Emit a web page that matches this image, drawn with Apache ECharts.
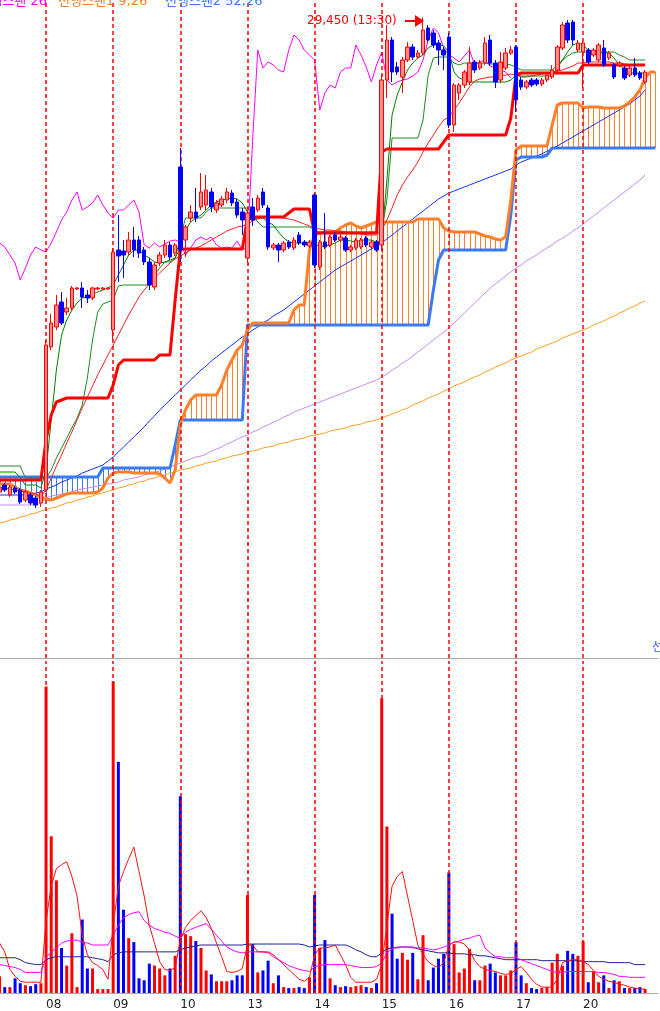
<!DOCTYPE html>
<html>
<head>
<meta charset="utf-8">
<script src="https://cdn.jsdelivr.net/npm/echarts/dist/echarts.min.js"></script>
<style>
html,body{margin:0;padding:0;background:#fff;}
#wrap{position:relative;width:660px;height:1011px;overflow:hidden;}
#c{position:absolute;left:-20px;top:0;width:700px;height:1011px;}
</style>
</head>
<body>
<div id="wrap"><div id="c"></div></div>
<script>
// ---------- categories ----------
const days = ['07','08','09','10','13','14','15','16','17','20'];
const sessionTimes = ['09:30','10:00','10:30','11:00','11:30','12:00','12:30','13:00','13:30','14:00','14:30','15:00','15:30'];
const firstDayBarsVisible = 9;
const futureLabels = ['+1','+2'];

// ---------- candles [open, close, low, high] ----------
const ohlc = [
// 07 (partial)
[19960,20060,19920,20100],[20100,20000,19960,20140],[19900,20060,19860,20100],[20040,19960,19920,20080],
[20000,19760,19720,20040],[19800,19960,19760,20000],[19900,19740,19700,19940],[19840,19700,19640,19880],
[19740,19960,19660,20000],
// 08
[20000,22900,19960,23000],[22860,23340,22800,23520],[23260,23700,23200,23900],[23760,23340,23300,23960],
[23560,23640,23500,23840],[23640,24040,23600,24080],[24020,24040,24000,24060],[24040,23860,23640,24160],
[23900,23840,23740,24000],[23840,24040,23800,24060],[24020,24040,24000,24060],[24020,24040,24000,24060],
[24020,24040,24000,24060],
// 09
[23200,24760,23000,24840],[24800,24680,24160,25500],[24780,24700,24240,25000],[24760,25000,24700,25160],
[25000,24800,24660,25260],[25000,24740,24640,25080],[24800,24560,24500,24860],[24560,24100,24000,24640],
[24060,24500,24000,24560],[24540,24700,24480,24760],[24700,24900,24640,25000],[24900,24660,24600,24960],
[24740,24900,24680,24940],
// 10
[26460,24800,24560,26840],[25000,25260,24660,25300],[25440,25560,25360,25700],[25560,25440,25360,26040],
[25660,25960,25600,26340],[25700,26000,25600,26300],[25960,25660,25560,26040],[25600,25740,25540,25800],
[25700,25820,25660,25880],[25800,25960,25740,26040],[25940,25740,25680,26000],[25760,25500,25440,25820],
[25560,25400,25100,25640],
// 13
[24640,25540,24540,25600],[25660,25400,25280,25840],[25600,25840,25560,25900],[25960,25700,25640,26040],
[25640,24860,24800,25700],[24840,24900,24800,24940],[24900,24800,24560,24940],[24800,24940,24760,24980],
[24960,24860,24820,25000],[24840,25000,24800,25060],[25100,24940,24900,25160],[24960,24900,24860,25000],
[24880,24960,24840,25000],
// 14
[25900,24500,24440,25940],[24460,24960,24400,25000],[24960,24860,24820,25540],[24900,25060,24860,25100],
[25100,25000,24960,25160],[25000,25060,24960,25100],[25040,24800,24760,25080],[24800,24860,24760,24900],
[24840,25000,24800,25040],[24860,25000,24820,25040],[25040,24900,24860,25080],[24860,24960,24820,25000],
[24960,24800,24760,25000],
// 15
[24900,28200,24800,28300],[28200,29000,27840,29300],[29000,28360,28160,29060],[28460,28360,28300,28560],
[28260,28600,27940,28660],[28600,28860,28560,28960],[28860,28660,28600,28920],[28660,28740,28620,28800],
[28740,29200,28700,29450],[29240,29000,28960,29300],[29140,28900,28840,29200],[28940,28800,28500,29000],
[28800,28700,28400,28860],
// 16
[29060,27300,27240,29140],[27300,28100,27160,28140],[27940,28100,27800,28140],[28100,28360,28040,28400],
[28160,28540,28100,28860],[28560,28400,28340,28600],[28440,28540,28400,28600],[28540,28940,28500,29060],
[29000,28540,28480,29100],[28540,28160,28040,28600],[28200,28560,28140,28760],[28440,28740,28400,28840],
[28740,28800,28700,28880],
// 17
[28860,27800,27560,28900],[28200,28060,28000,28260],[28060,28160,28020,28200],[28200,28100,28060,28240],
[28200,28120,28080,28240],[28120,28200,28080,28240],[28200,28300,28160,28340],[28260,28400,28220,28500],
[28400,28860,28360,28900],[28840,29300,28800,29360],[29340,29000,28940,29400],[29360,29000,28900,29400],
[28800,28940,28760,29000],
// 20
[28760,28940,28040,28980],[28800,28560,28520,28840],[28700,28800,28660,28840],[28600,28900,28560,28940],
[28840,28500,28460,29000],[28640,28740,28600,28780],[28500,28260,28220,28540],[28500,28540,28460,28580],
[28440,28240,28200,28480],[28300,28440,28260,28480],[28440,28300,28260,28640],[28340,28240,28200,28380],
[28160,28360,28120,28400]
];

// ---------- ichimoku ----------
const conversionLine = [
20360,20360,20360,20360,20240,20100,20100,20100,20040,20400,
21400,22400,23100,23400,23600,23740,23840,23860,23920,23960,
24000,24040,24100,24300,24500,24700,24800,24800,24700,24640,
24560,24540,24560,24600,24640,24840,25200,25360,25440,25500,
25600,25700,25760,25800,25820,25840,25820,25740,25560,25440,
25440,25440,25360,25300,25160,25040,24960,24940,24940,24940,
24940,24900,24880,24880,24900,24940,25000,25000,24980,24960,
25000,25000,25000,24960,25000,26200,27500,27900,28160,28400,
28540,28640,28700,28840,28900,28920,28880,28760,28360,28240,
28200,28160,28160,28160,28160,28160,28160,28160,28160,28200,
28300,28280,28280,28280,28280,28280,28280,28280,28440,28600,
28760,28900,28940,28900,28800,28760,28740,28740,28740,28640,
28500,28400,28340,28340,28340,28340];

const secondGreenLine = [
20480,20480,20480,20480,20480,20240,20240,20240,20240,20240,
20400,20640,20840,21040,21240,21440,21700,22240,23000,23560,
23720,23760,23800,24080,24100,24100,24100,24100,24100,24100,
24300,24440,24560,24560,24640,25040,25440,25440,25440,25440,
25560,25640,25640,25640,25640,25640,25640,25640,25640,25500,
25360,25260,25260,25260,25260,25260,25260,25260,25260,25260,
25260,25200,25160,25160,25160,25160,25160,25160,25160,25160,
25160,25160,25160,25160,25160,25800,27040,27040,27040,27040,
27040,27040,27400,28300,28640,28660,28660,28660,28540,28500,
28540,28540,28540,28540,28540,28520,28520,28520,28520,28500,
28460,28400,28400,28400,28400,28400,28400,28400,28500,28600,
28680,28740,28760,28760,28760,28760,28760,28760,28760,28760,
28700,28660,28600,28600,28600,28600];

const baseLine = [
20200,20200,20200,20200,20200,20200,20200,20200,20200,21000,
21500,21760,21800,21840,21840,21840,21840,21840,21840,21840,
21840,21840,22100,22500,22600,22600,22600,22600,22600,22600,
22600,22700,22700,22700,23800,24820,24820,24820,24820,24820,
24820,24820,24820,24820,24820,24820,24820,24820,25440,25460,
25460,25460,25460,25460,25460,25460,25540,25620,25620,25620,
25620,25140,25140,25140,25140,25140,25140,25140,25140,25140,
25140,25140,25140,25140,26760,26820,26820,26820,26820,26820,
26820,26820,26820,26820,26820,26820,26960,27100,27100,27100,
27100,27100,27100,27100,27100,27100,27100,27100,27100,27440,
28300,28340,28340,28340,28340,28340,28340,28340,28340,28340,
28340,28340,28340,28500,28500,28500,28500,28500,28500,28500,
28500,28500,28500,28500,28500,28500];

const leadingSpan1 = [
20120,20120,20120,20060,20000,19980,19940,19900,19860,19820,
19800,19840,19880,19920,19940,19940,19940,19940,19940,19960,
20040,20240,20340,20360,20360,20360,20340,20340,20340,20340,
20340,20320,20240,20140,20400,21300,21600,21800,21900,21900,
21900,21900,21900,22100,22400,22600,22800,22900,23200,23340,
23340,23340,23340,23340,23340,23340,23340,23600,23700,23700,
24800,25100,25140,25160,25160,25160,25240,25300,25340,25280,
25240,25280,25320,25360,25360,25360,25360,25360,25360,25360,
25360,25420,25420,25420,25420,25420,25240,25180,25160,25160,
25160,25160,25160,25120,25080,25060,25020,25000,25060,25800,
26800,26880,26880,26880,26880,26880,26880,27300,27700,27740,
27740,27740,27740,27640,27660,27660,27660,27640,27640,27640,
27640,27680,27760,27860,28000,28240,28360,28360];

const leadingSpan2 = [
20260,20260,20260,20260,20260,20260,20260,20260,20260,20260,
20260,20260,20260,20260,20260,20260,20260,20260,20260,20260,
20440,20440,20440,20440,20440,20440,20440,20440,20440,20440,
20440,20440,20440,20440,20900,21400,21400,21400,21400,21400,
21400,21400,21400,21400,21400,21400,21400,21400,23300,23300,
23300,23300,23300,23300,23300,23300,23300,23300,23300,23300,
23300,23300,23300,23300,23300,23300,23300,23300,23300,23300,
23300,23300,23300,23300,23300,23300,23300,23300,23300,23300,
23300,23300,23300,23300,24000,24600,24800,24800,24800,24800,
24800,24800,24800,24800,24800,24800,24800,24800,24800,25500,
26600,26660,26660,26660,26660,26660,26700,26840,26840,26840,
26840,26840,26840,26840,26840,26840,26840,26840,26840,26840,
26840,26840,26840,26840,26840,26840,26840,26840];

const laggingSpan = [
24940,24860,24700,24540,24200,24440,24700,24860,24800,24760,
24940,25160,25400,25560,25800,25960,25600,25660,25740,25900,
25700,25540,25440,25600,25600,25700,25800,25560,24900,24840,
24940,24860,24920,24980,25000,24960,24700,24840,25000,25060,
25000,25060,24900,24840,24860,24840,24980,24800,24860,27000,
28800,28440,28560,28500,28400,28360,28800,29100,29000,28800,
28700,28600,27600,27940,28100,28040,28360,28440,28440,28900,
28700,28460,28160,28500,28760,28200,28100,28160,28200,28220,
28280,28360,28600,29000,29240,29140,28840,28700,28640,28560,
28680,28800,28500,28560,28600,28480,28440,28400,28360,28240];

// ---------- price moving averages ----------
const maRed = [
20040,20040,20020,20000,19980,19960,19940,19920,19880,20000,
20240,20480,20700,20940,21160,21400,21640,21860,22080,22300,
22500,22700,22900,23100,23300,23500,23680,23860,24000,24120,
24240,24340,24440,24540,24620,24680,24740,24800,24840,24880,
24940,25000,25060,25120,25180,25220,25260,25280,25320,25380,
25420,25460,25460,25460,25460,25440,25420,25400,25360,25320,
25280,25240,25220,25200,25200,25180,25180,25160,25140,25140,
25120,25100,25100,25100,25200,25400,25640,25900,26100,26260,
26400,26560,26760,26940,27100,27260,27400,27460,27600,27740,
27900,28060,28180,28220,28240,28260,28260,28280,28300,28320,
28300,28260,28260,28280,28300,28320,28340,28360,28380,28400,
28440,28480,28540,28540,28560,28560,28560,28560,28560,28540,
28540,28520,28500,28500,28500,28500];

const maBlue = [
19900,19900,19900,19900,19900,19900,19920,19940,19960,20020,
20060,20100,20160,20200,20240,20280,20340,20380,20420,20460,
20500,20580,20660,20760,20860,20960,21060,21160,21260,21380,
21480,21600,21700,21800,21900,22000,22100,22200,22300,22400,
22480,22580,22660,22740,22820,22900,22980,23060,23120,23200,
23260,23340,23400,23480,23540,23600,23680,23760,23840,23920,
24000,24080,24160,24240,24320,24400,24460,24520,24580,24640,
24700,24760,24820,24880,24940,25020,25100,25180,25260,25340,
25420,25500,25580,25660,25740,25820,25880,25940,25980,26020,
26060,26100,26140,26180,26220,26260,26300,26340,26380,26420,
26500,26560,26600,26640,26680,26720,26780,26820,26880,26940,
27000,27060,27120,27180,27240,27300,27360,27420,27480,27540,
27600,27660,27720,27800,27880,28000];

const maViolet = [
19700,19700,19700,19700,19700,19700,19700,19700,19740,19840,
19880,19900,19920,19940,19960,20000,20020,20040,20060,20080,
20100,20120,20140,20160,20200,20220,20240,20260,20300,20320,
20360,20380,20420,20460,20500,20540,20580,20620,20660,20680,
20720,20780,20820,20860,20920,20960,21020,21060,21100,21160,
21200,21260,21300,21360,21400,21460,21500,21560,21600,21640,
21680,21720,21760,21800,21840,21880,21920,21960,22000,22040,
22080,22120,22160,22200,22260,22320,22400,22460,22540,22600,
22680,22760,22840,22920,23000,23080,23160,23240,23340,23440,
23540,23640,23740,23840,23940,24040,24120,24200,24280,24360,
24440,24500,24580,24640,24700,24780,24840,24900,24980,25040,
25100,25180,25240,25320,25400,25480,25560,25640,25720,25800,
25880,25960,26040,26120,26200,26300];

const maOrange = [
19340,19360,19400,19420,19460,19480,19520,19540,19580,19600,
19640,19660,19700,19740,19760,19800,19820,19860,19880,19920,
19940,19980,20000,20040,20060,20100,20120,20160,20180,20220,
20240,20280,20300,20340,20360,20400,20420,20440,20480,20500,
20540,20560,20580,20620,20640,20680,20700,20720,20760,20780,
20800,20840,20860,20880,20920,20940,20960,21000,21020,21040,
21080,21100,21120,21140,21180,21200,21220,21240,21280,21300,
21320,21360,21380,21400,21440,21480,21520,21560,21600,21640,
21700,21740,21780,21840,21880,21920,21980,22020,22080,22120,
22160,22220,22260,22300,22360,22400,22460,22500,22540,22600,
22640,22680,22720,22760,22820,22860,22900,22940,22980,23040,
23080,23120,23160,23200,23240,23300,23340,23380,23440,23480,
23540,23580,23640,23680,23740,23780];

// ---------- volume (thousand shares) ----------
const volume = [
17,6,6,15,10,8,7,9,10,
313,160,115,46,28,61,6,75,25,25,4,4,4,
318,236,85,56,52,15,13,30,28,25,18,25,38,
201,60,58,53,46,23,19,12,12,12,13,18,18,
100,50,21,23,33,10,18,6,5,5,6,5,16,
100,46,54,15,8,6,7,6,7,8,6,5,10,
301,170,81,35,41,34,41,14,59,13,26,35,40,
123,50,21,25,45,13,13,28,30,21,18,18,23,
52,18,10,5,4,5,6,31,40,28,43,40,38,
53,11,22,11,18,5,13,12,5,5,5,6,4];

const volMaShort = [
51,42,24,17,12,11,11,11,11,74,
109,127,131,134,119,99,59,39,31,28,
24,14,69,109,124,137,149,124,99,69,
51,32,24,23,26,54,67,74,79,84,
77,66,51,37,22,21,22,25,49,49,
42,42,42,39,34,29,24,19,14,12,
16,39,46,46,47,49,39,29,16,11,
11,11,11,14,29,69,109,119,124,99,
74,49,39,32,28,26,31,49,52,52,
50,44,33,27,24,23,22,20,19,20,
24,27,21,14,9,6,6,6,14,31,
33,34,34,32,29,23,17,14,12,11,
9,8,6,5,4,4];

const volMaMid = [
29,28,27,26,24,21,21,21,21,36,
42,46,51,53,54,54,52,51,49,49,
49,49,59,69,77,80,82,83,74,69,
66,64,62,61,58,56,62,65,67,69,
71,65,59,53,47,44,42,41,42,42,
42,42,41,37,34,31,28,26,24,23,
22,27,28,29,29,29,29,29,28,27,
26,26,26,27,31,41,45,47,47,47,
46,46,46,45,44,45,47,49,52,53,
55,56,58,59,46,41,37,37,36,36,
36,34,32,30,28,26,24,22,21,21,
22,22,22,22,22,22,21,21,20,19,
17,17,16,16,16,16];

const volMaLong = [
36,36,36,36,34,31,30,29,29,34,
36,37,37,37,37,37,37,37,36,35,
34,32,39,41,42,42,42,42,42,42,
42,42,42,42,42,44,46,47,48,49,
49,49,49,49,49,49,49,49,50,50,
50,50,50,50,50,50,50,50,50,49,
47,48,49,49,49,49,49,49,47,44,
42,39,37,37,41,45,46,46,47,47,
47,45,44,43,42,41,41,41,40,40,
40,39,39,38,38,37,36,35,34,34,
34,34,34,34,34,33,33,33,33,33,
33,33,33,32,32,32,32,32,31,31,
31,31,31,29,29,29];

// ---------- build tables ----------
const categories = [];
days.forEach((d, k) => {
  const times = k === 0 ? sessionTimes.slice(sessionTimes.length - firstDayBarsVisible) : sessionTimes;
  times.forEach(t => categories.push(d + ' ' + t));
});
futureLabels.forEach(f => categories.push(f));
const dayStarts = [];
categories.forEach((c, i) => { if (c.endsWith(' ' + sessionTimes[0])) dayStarts.push(i); });

const UP = '#FF0000', UPFILL = '#FF8A8A', DOWN = '#0000FF';
const SPAN1C = '#FF7F2A', SPAN2C = '#3A7BF5';
const OFF = 20; // chart canvas is shifted left by this many px inside the clipping wrapper

const volData = volume.map((v, i) => ({
  value: v,
  itemStyle: { color: ohlc[i][1] >= ohlc[i][0] ? UP : DOWN }
}));

const dayMarkLine = {
  silent: true, symbol: ['none', 'none'], animation: false,
  label: { show: false },
  lineStyle: { color: '#FF0000', type: [4, 3], width: 1.5 },
  emphasis: { disabled: true },
  data: dayStarts.map(i => ({ xAxis: i }))
};

function lineS(data, color, width, xi, z) {
  return { type: 'line', data: data, xAxisIndex: xi, yAxisIndex: xi, showSymbol: false, symbol: 'none',
    lineStyle: { color: color, width: width }, itemStyle: { color: color }, z: z || 3, silent: true, animation: false };
}

const chart = echarts.init(document.getElementById('c'), null, { renderer: 'canvas' });
const FONT = '"Noto Sans CJK KR", "Noto Sans", sans-serif';
const FONT_MIX = '"DejaVu Sans", "Noto Sans CJK KR", sans-serif';

chart.setOption({
  animation: false,
  backgroundColor: '#ffffff',
  grid: [
    { left: OFF - 3, width: 661, top: 0, height: 658 },
    { left: OFF - 3, width: 661, top: 661, height: 339 }
  ],
  xAxis: [
    { type: 'category', gridIndex: 0, data: categories, boundaryGap: true,
      axisLine: { show: true, lineStyle: { color: '#AAAAAA', width: 1 } },
      axisTick: { show: false }, axisLabel: { show: false }, splitLine: { show: false } },
    { type: 'category', gridIndex: 1, data: categories, boundaryGap: true,
      axisLine: { show: true, lineStyle: { color: '#AAAAAA', width: 1 } },
      axisTick: { show: false }, splitLine: { show: false },
      axisLabel: { show: true, interval: (idx) => dayStarts.indexOf(idx) >= 0,
        formatter: (v) => v.slice(0, 2), align: 'left', margin: 6,
        color: '#222222', fontSize: 12, fontFamily: FONT_MIX } }
  ],
  yAxis: [
    { type: 'value', gridIndex: 0, min: 16640, max: 29800, show: false, splitLine: { show: false } },
    { type: 'value', gridIndex: 1, min: 0, max: 339, show: false, splitLine: { show: false } }
  ],
  series: [
    { type: 'custom', xAxisIndex: 0, yAxisIndex: 0, silent: true, z: 1,
      data: leadingSpan1.map((v, i) => [i, v, leadingSpan2[i]]),
      encode: { x: 0, y: [1, 2] },
      renderItem: (params, api) => {
        const i = api.value(0);
        const a = api.coord([i, api.value(1)]);
        const b = api.coord([i, api.value(2)]);
        const x = Math.round(a[0]) + 0.5;
        return { type: 'line', shape: { x1: x, y1: a[1], x2: x, y2: b[1] },
          style: { stroke: api.value(1) >= api.value(2) ? SPAN1C : SPAN2C, lineWidth: 1 } };
      } },
    lineS(maOrange, '#FFA020', 1, 0, 2),
    lineS(maViolet, '#C88CF2', 1, 0, 2),
    lineS(maBlue, '#1030FF', 1, 0, 2),
    lineS(leadingSpan2, SPAN2C, 3, 0, 3),
    lineS(leadingSpan1, SPAN1C, 3, 0, 3),
    lineS(laggingSpan, '#FF00FF', 1, 0, 4),
    lineS(maRed, '#FF2020', 1, 0, 4),
    lineS(secondGreenLine, '#1E8A1E', 1, 0, 4),
    lineS(conversionLine, '#008000', 1, 0, 4),
    lineS(baseLine, '#FF0000', 3, 0, 5),
    { type: 'candlestick', xAxisIndex: 0, yAxisIndex: 0, data: ohlc, barWidth: 4, z: 6, silent: true,
      itemStyle: { color: UPFILL, color0: DOWN, borderColor: UP, borderColor0: DOWN, borderWidth: 1 },
      markLine: dayMarkLine },
    { type: 'bar', xAxisIndex: 1, yAxisIndex: 1, data: volData, barWidth: 3, z: 2, silent: true,
      markLine: dayMarkLine },
    lineS(volMaLong, '#202090', 1, 1, 4),
    lineS(volMaMid, '#FF00FF', 1, 1, 4),
    lineS(volMaShort, '#FF1010', 1, 1, 4)
  ],
  graphic: [
    { type: 'text', z: 100, style: { text: '후행스팬 26', x: OFF + 47, y: 2, textAlign: 'right', textVerticalAlign: 'middle', fill: '#FF00FF', font: '13px ' + FONT_MIX } },
    { type: 'text', z: 100, style: { text: '선행스팬1 9,26', x: OFF + 58, y: 2, textAlign: 'left', textVerticalAlign: 'middle', fill: SPAN1C, font: '13px ' + FONT_MIX } },
    { type: 'text', z: 100, style: { text: '선행스팬2 52,26', x: OFF + 165, y: 2, textAlign: 'left', textVerticalAlign: 'middle', fill: SPAN2C, font: '13px ' + FONT_MIX } },
    { type: 'text', z: 100, style: { text: '29,450 (13:30)', x: OFF + 307, y: 21, textAlign: 'left', textVerticalAlign: 'middle', fill: '#FF0000', font: '12px "DejaVu Sans", sans-serif' } },
    { type: 'line', z: 100, shape: { x1: OFF + 405, y1: 21, x2: OFF + 417, y2: 21 }, style: { stroke: '#FF0000', lineWidth: 2 } },
    { type: 'polygon', z: 100, shape: { points: [[OFF + 415, 15], [OFF + 424, 21], [OFF + 415, 27]] }, style: { fill: '#FF0000' } },
    { type: 'text', z: 100, style: { text: '선', x: OFF + 652, y: 646, textAlign: 'left', textVerticalAlign: 'middle', fill: '#3355EE', font: '12px ' + FONT } }
  ]
});
</script>
</body>
</html>
